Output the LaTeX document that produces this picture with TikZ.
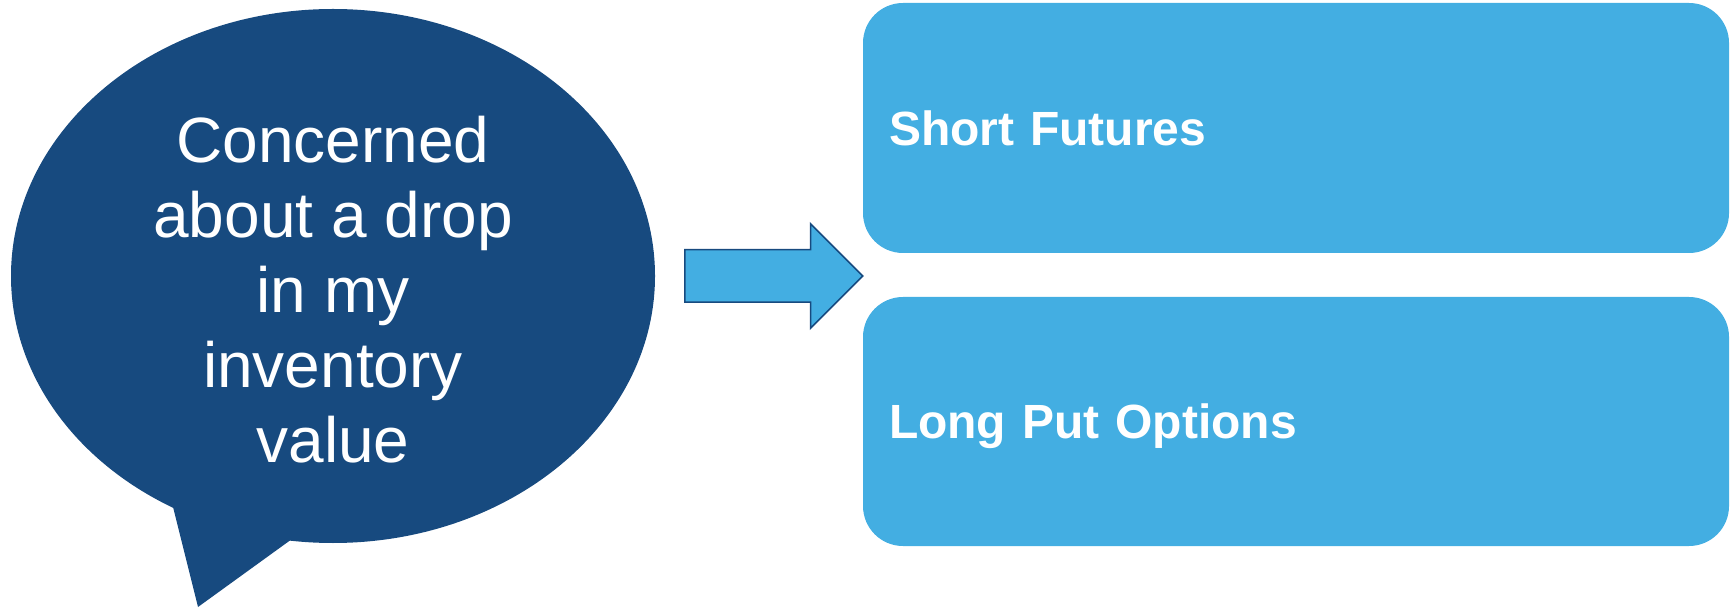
\documentclass[tikz,border=0pt]{standalone}
\usepackage{fontspec}
\setmainfont{Liberation Sans}
\usepackage{tikz}
\usetikzlibrary{positioning,shapes.geometric,shapes.arrows}
\definecolor{navy}{HTML}{174A7F}
\definecolor{sky}{HTML}{43AEE2}

\begin{document}
\begin{tikzpicture}[x=1pt,y=1pt,node distance=293.5pt,on grid,
    bubble/.style={ellipse,fill=navy,inner sep=0pt,minimum width=644pt,minimum height=534pt},
    bubbletext/.style={text=white,align=center,font=\fontsize{64}{75}\selectfont},
    choice/.style={rectangle,fill=sky,rounded corners=40pt,minimum width=866pt,minimum height=250pt,
      text width=814pt,inner xsep=26pt,align=left,text=white,text depth=0pt,font=\fontsize{48}{56}\selectfont\bfseries},
    bigarrow/.style={single arrow,draw=navy,line width=1.5pt,fill=sky,inner xsep=0pt,inner ysep=25.5pt,
      minimum height=178pt,minimum width=103pt,single arrow head extend=26pt,single arrow tip angle=90}]
    \useasboundingbox (0,0) rectangle (1736,608);
    \node[bubble] (worry) at (333,332) {};
    \fill[navy] (173,120) -- (173,101) -- (198,1) -- (292,69) -- (292,110) -- cycle;
    \node[bubbletext] (concern) at ([yshift=-14pt]worry.center) {Concerned\\about a drop\\in my\\inventory\\value};
    \node[bigarrow,anchor=tail] (hedge) at (684,332) {};
    \node[choice] (futures) at (1296,480) {Short Futures};
    \node[choice,minimum height=249pt] (puts) [below = of futures] {Long Put Options};
  \end{tikzpicture}
\end{document}
